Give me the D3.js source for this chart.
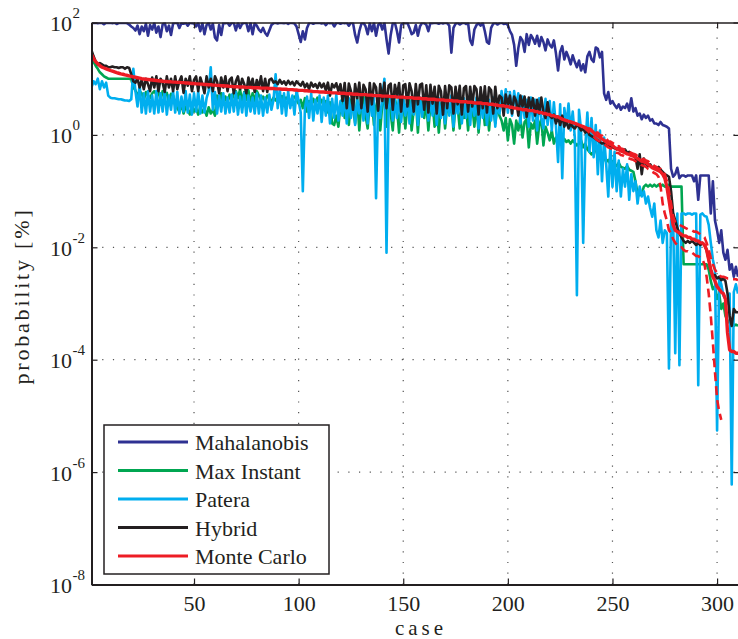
<!DOCTYPE html>
<html>
<head>
<meta charset="utf-8">
<script src="https://cdn.jsdelivr.net/npm/d3@7"></script>
<style>
  body { margin: 0; background: #fff; }
  svg text { font-family: "Liberation Serif", "Times New Roman", serif; fill: #231f20; }
</style>
</head>
<body>
<svg class="chart" width="738" height="639"></svg>
<script>
// probability [%] per case
var mahalanobis = [
  99, 98, 99, 97, 99, 98, 93, 99, 98, 99,
  97, 99, 94, 98, 99, 98, 99, 97, 92, 85,
  80, 72, 88, 62, 85, 70, 95, 58, 90, 75,
  98, 66, 85, 55, 92, 99, 70, 88, 60, 96,
  98, 99, 80, 97, 95, 99, 88, 99, 97, 96,
  85, 99, 70, 98, 62, 90, 99, 75, 95, 54,
  48, 90, 60, 98, 97, 99, 88, 98, 99, 72,
  99, 80, 95, 99, 98, 70, 99, 62, 97, 88,
  75, 68, 80, 65, 58, 72, 90, 97, 99, 96,
  99, 98, 97, 99, 94, 99, 98, 96, 85, 62,
  45, 70, 50, 80, 97, 99, 95, 99, 98, 99,
  96, 99, 90, 99, 97, 99, 85, 98, 99, 95,
  99, 97, 99, 88, 99, 98, 60, 44, 70, 95,
  99, 85, 62, 97, 70, 99, 58, 90, 99, 75,
  99, 50, 28, 60, 97, 99, 70, 44, 90, 99,
  97, 99, 80, 62, 66, 90, 58, 85, 99, 97,
  92, 70, 99, 97, 99, 98, 95, 99, 96, 99,
  97, 88, 29, 80, 95, 99, 92, 97, 99, 94,
  98, 48, 40, 75, 90, 97, 88, 99, 70, 45,
  42, 80, 95, 99, 92, 97, 99, 94, 96, 90,
  70, 60, 40, 17, 35, 55, 48, 30, 62, 40,
  60, 52, 42, 58, 38, 55, 45, 32, 50, 40,
  36, 48, 28, 14, 30, 38, 22, 30, 24, 18,
  26, 20, 16, 21, 14, 18, 13, 25, 30, 22,
  20, 36, 34, 24, 30, 5.5, 4.2, 5.8, 3.6, 4.0,
  3.4, 3.0, 3.5, 2.8, 3.2, 3.0, 3.6, 2.7, 4.5, 2.6,
  3.0, 2.2, 2.4, 1.9, 2.3, 2.0, 2.2, 1.8, 1.9, 1.6,
  1.6, 1.5, 1.7, 1.5, 1.45, 1.4, 1.3, 0.25, 0.18, 0.2,
  0.26, 0.17, 0.19, 0.19, 0.18, 0.19, 0.19, 0.19, 0.15, 0.19,
  0.07, 0.19, 0.19, 0.19, 0.19, 0.19, 0.04, 0.15, 0.03, 0.02,
  0.012, 0.02, 0.008, 0.006, 0.009, 0.004, 0.005, 0.003, 0.0045, 0.003
]

var maxInstant = [
  23, 20, 17, 15, 13, 12, 11, 10.5, 10, 10,
  10, 10, 10, 10, 10, 10, 10, 10, 10, 9.8,
  7, 6.2, 5, 6, 5.5, 4.2, 5.8, 5, 4.5, 5.5,
  6, 5.2, 5.8, 4.2, 6, 5, 5.6, 3.8, 5.4, 5,
  3.4, 3, 2.6, 3.5, 2.4, 3.2, 2.8, 2.3, 3.4, 2.6,
  3, 2.3, 3.2, 2.5, 2.9, 2.2, 3.1, 2.4, 2.8, 2.2,
  5, 4.2, 5.5, 3.5, 4.8, 3.8, 5.2, 4, 5.6, 6,
  4.5, 6.5, 3.8, 5.8, 4.2, 6.2, 3.6, 5.5, 4, 6,
  5, 4.2, 4.8, 4, 5, 4.4, 3.9, 4.6, 4.1, 4.8,
  4.4, 4.9, 4, 4.6, 4.2, 3.8, 4.5, 4.8, 4.2, 3.6,
  4.2, 3, 4.5, 2.6, 4, 3.2, 4.4, 3.6, 4.6, 3.5,
  4.2, 3.4, 4, 2.5, 3.8, 1.6, 1.5, 2.2, 1.4, 3.5,
  4.6, 2, 4.8, 1.5, 4.2, 3, 1.6, 4.5, 1.2, 3.8,
  4.9, 2.2, 1.3, 4, 4.6, 1.5, 3.2, 4.4, 1.2, 3.6,
  4.2, 1.4, 4.8, 2.4, 1.2, 4.4, 3, 1.1, 4, 4.6,
  1.3, 3.5, 4.2, 1.2, 2.8, 4.4, 1.1, 3.8, 4.5, 2,
  3.8, 1.2, 3.5, 3.8, 1.4, 3.2, 1.1, 3.6, 3.8, 1.3,
  3.4, 2.5, 3.8, 1.2, 3.5, 3.2, 1.3, 3.8, 2, 3.4,
  1.2, 3.6, 3.3, 1.4, 3.7, 1.1, 3.2, 3.6, 1.5, 3.3,
  1.2, 3.5, 3, 1.6, 3.4, 2.2, 1.8, 1.2, 2, 0.8,
  1.9, 1.5, 0.7, 1.8, 1.2, 2, 0.9, 1.7, 1.9, 0.6,
  1.6, 1.3, 1.8, 0.7, 1.5, 1.9, 0.65, 1.4, 1.1, 0.8,
  1.2, 0.7, 0.9, 0.75, 0.8, 0.7, 0.85, 0.75, 0.8, 0.7,
  0.8, 0.72, 0.65, 0.7, 0.8, 0.6, 0.7, 0.55, 0.5, 0.45,
  0.5, 0.55, 0.42, 0.45, 0.38, 0.4, 0.33, 0.36, 0.3, 0.34,
  0.3, 0.28, 0.32, 0.27, 0.26, 0.25, 0.28, 0.24, 0.23, 0.22,
  0.15, 0.09, 0.085, 0.09, 0.12, 0.13, 0.12, 0.13, 0.12, 0.13,
  0.12, 0.13, 0.12, 0.13, 0.12, 0.12, 0.13, 0.12, 0.12, 0.12,
  0.12, 0.12, 0.12, 0.005, 0.005, 0.005, 0.005, 0.005, 0.005, 0.005,
  0.005, 0.005, 0.005, 0.005, 0.005, 0.004, 0.0025, 0.0018, 0.002, 0.0012,
  0.0015, 0.0008, 0.001, 0.0006, 0.0005, 0.00045, 0.0005, 0.0004, 0.00042, 0.0004
]

var patera = [
  7, 9, 8, 10, 6.5, 9, 7, 8.5, 5, 4.6,
  4.5, 4.5, 4.4, 4.3, 4.3, 4.2, 4.1, 4.1, 4, 4.3,
  15, 6, 3.2, 8, 2.5, 5.5, 2.4, 6, 2.6, 5,
  2.4, 6, 2.5, 5.5, 2.6, 6.2, 2.3, 5, 2.8, 6,
  2.5, 5.8, 2.4, 4.8, 2.6, 6, 2.5, 5.2, 2.3, 5.5,
  2.6, 6, 2.4, 5, 2.5, 4.5, 6, 16, 2.8, 5.8,
  2.4, 5, 2.6, 5.5, 2.4, 4.6, 2.5, 5.2, 2.6, 5.8,
  2.3, 4.8, 2.5, 5.6, 2.2, 5, 2.6, 4.6, 2.4, 5.5,
  2.4, 5, 2.2, 4.6, 2.5, 5.2, 2.8, 4.2, 12, 3,
  6.5, 2.4, 5.5, 2.2, 6, 3, 5, 2.3, 6.2, 4,
  2.5, 0.1, 3, 4.8, 2, 5.5, 1.8, 4.2, 2.4, 5,
  1.7, 4.6, 2.2, 5, 1.6, 4.4, 2, 5.2, 1.8, 4,
  2.2, 4.8, 1.6, 4.5, 2, 5, 1.5, 4.2, 2.4, 4.8,
  1.8, 4.4, 1.6, 5, 2.2, 4.6, 0.075, 3.5, 2, 4.8,
  10, 0.008, 3, 4.5, 1.8, 4.2, 2, 5, 1.7, 4.4,
  2.2, 4.8, 1.6, 4, 2.3, 5, 1.5, 4.6, 2.1, 4.2,
  4.8, 1.8, 4.4, 2.2, 5, 1.5, 4.5, 2, 4.2, 1.6,
  4.6, 2.2, 5, 1.4, 4.2, 2.4, 4.8, 1.6, 4.5, 2,
  4.4, 1.5, 5, 2.2, 4.6, 1.3, 4.4, 2, 4.8, 1.5,
  4.2, 1.8, 4.6, 1.4, 4, 2.4, 6, 3, 6.5, 2.5,
  5.8, 2.2, 6, 3.2, 5.5, 1.6, 4.8, 2, 4.2, 1.4,
  4.6, 1.8, 4.2, 1.2, 4.5, 2, 1.3, 4.4, 1.5, 4,
  1.2, 3.8, 1.4, 0.33, 3.5, 0.17, 3, 1.5, 3.6, 1.2,
  2.6, 0.9, 0.0014, 2.8, 1.2, 0.012, 0.6, 2.5, 0.5, 2,
  0.4, 1.5, 0.2, 1.2, 0.15, 0.9, 0.3, 0.08, 0.7, 0.12,
  0.5, 0.1, 0.35, 0.08, 0.25, 0.12, 0.3, 0.07, 0.2, 0.1,
  0.15, 0.06, 0.12, 0.08, 0.1, 0.06, 0.08, 0.05, 0.035, 0.06,
  0.02, 0.015, 0.03, 0.012, 0.02, 0.018, 7e-5, 0.03, 0.04, 1.3e-4,
  0.04, 8e-5, 0.04, 0.04, 0.038, 0.04, 0.04, 0.038, 0.04, 0.04,
  3.5e-5, 0.038, 0.04, 0.036, 0.035, 0.025, 0.012, 0.006, 0.004, 5.5e-6,
  0.0028, 0.0022, 0.0014, 0.0012, 0.001, 0.0015, 6e-7, 0.0016, 0.0022, 0.0015
]

var hybrid = [
  32, 25, 20, 18, 19, 18, 17, 17, 16, 16,
  16.5, 16, 16, 15.5, 16, 16, 15, 16, 15.5, 12,
  9, 8.5, 10, 7, 9.5, 6.5, 10, 8, 6, 10.5,
  7, 11, 6, 10, 8.5, 5.8, 11, 7, 10, 6,
  11, 6.5, 9, 11, 5.6, 10, 7.5, 11, 6, 9.5,
  11, 6, 10.5, 8, 5.5, 11, 7, 10, 6, 11,
  9, 5.5, 10.5, 7, 11, 6, 9.5, 10.5, 5.5, 9,
  11, 6.5, 10, 8, 5.5, 10.5, 7, 10, 5.8, 9.5,
  7, 11, 6, 10, 5.8, 9.5, 10, 8.5, 9, 8,
  9.5, 8.2, 9, 7.8, 9.2, 8, 8.8, 7.6, 9, 8.2,
  7.5, 8.8, 7, 8.2, 6.5, 8.5, 7.2, 8, 6.8, 8.4,
  7, 8.2, 6.2, 8.5, 5, 8, 7, 8.3, 6, 8,
  4, 8.4, 3, 8.2, 6, 2.8, 8, 4.5, 8.5, 3,
  7.8, 6.5, 2.6, 8.4, 3.5, 8.2, 7, 2.7, 8, 4,
  8.5, 3, 7.5, 8.2, 2.8, 7.8, 5, 8.4, 2.6, 7.6,
  8, 3.2, 8.3, 6, 2.6, 8, 3.5, 7.8, 8.2, 2.8,
  7.6, 2.5, 7.8, 3.6, 7.2, 2.4, 7.5, 6, 2.3, 7.4,
  3, 7.6, 7, 2.4, 7.2, 3.5, 7.5, 2.3, 6.8, 7.4,
  2.6, 7.2, 3.2, 7.4, 6.5, 2.3, 7, 3, 7.3, 2.5,
  7, 6.2, 2.4, 7.2, 3, 5, 4.6, 2.2, 5.2, 3.5,
  5, 2.4, 4.8, 4, 2.2, 5, 3.2, 4.8, 2.1, 4.6,
  3, 4.5, 2.2, 4.2, 2.4, 4.6, 2.6, 2, 3.8, 2.2,
  2, 2.3, 1.6, 2.1, 1.5, 2.2, 1.4, 1.8, 1.3, 1.6,
  1.4, 1.3, 1.5, 1.4, 1.2, 1.3, 1.1, 1.2, 1, 0.95,
  0.9, 0.85, 0.8, 0.75, 0.7, 0.72, 0.68, 0.62, 0.65, 0.6,
  0.58, 0.55, 0.6, 0.52, 0.5, 0.55, 0.48, 0.5, 0.45, 0.42,
  0.4, 0.25, 0.45, 0.2, 0.38, 0.3, 0.28, 0.3, 0.26, 0.27,
  0.25, 0.27, 0.24, 0.22, 0.2, 0.19, 0.18, 0.1, 0.04, 0.03,
  0.022, 0.018, 0.015, 0.013, 0.012, 0.013, 0.012, 0.013, 0.012, 0.011,
  0.012, 0.011, 0.012, 0.011, 0.009, 0.006, 0.004, 0.003, 0.0032, 0.0028,
  0.003, 0.0026, 0.0028, 0.0025, 0.0015, 0.0006, 0.0004, 0.0008, 0.0007, 0.0007
]

var monteCarlo = [
  27, 23, 20, 18.5, 17, 16, 15.5, 15, 14.5, 14,
  13.6, 13.2, 12.8, 12.5, 12.2, 12, 11.7, 11.5, 11.2, 11,
  10.8, 10.6, 10.4, 10.2, 10, 9.9, 9.8, 9.7, 9.6, 9.5,
  9.4, 9.3, 9.2, 9.1, 9, 8.9, 8.9, 8.8, 8.8, 8.7,
  8.7, 8.6, 8.6, 8.5, 8.5, 8.4, 8.4, 8.3, 8.2, 8.2,
  8.1, 8.1, 8, 8, 7.9, 7.9, 7.8, 7.8, 7.7, 7.7,
  7.6, 7.6, 7.5, 7.5, 7.4, 7.4, 7.3, 7.3, 7.2, 7.2,
  7.2, 7.1, 7.1, 7.1, 7, 7, 7, 6.9, 6.9, 6.9,
  6.9, 6.8, 6.8, 6.8, 6.8, 6.7, 6.7, 6.7, 6.6, 6.6,
  6.6, 6.5, 6.5, 6.5, 6.4, 6.4, 6.4, 6.3, 6.3, 6.2,
  6.2, 6.2, 6.1, 6.1, 6, 6, 5.9, 5.9, 5.9, 5.8,
  5.8, 5.8, 5.7, 5.7, 5.7, 5.6, 5.6, 5.6, 5.5, 5.5,
  5.5, 5.5, 5.4, 5.4, 5.4, 5.3, 5.3, 5.3, 5.2, 5.2,
  5.2, 5.2, 5.1, 5.1, 5.1, 5, 5, 5, 5, 4.9,
  4.9, 4.9, 4.9, 4.8, 4.8, 4.8, 4.7, 4.7, 4.7, 4.7,
  4.6, 4.6, 4.6, 4.6, 4.5, 4.5, 4.5, 4.5, 4.4, 4.4,
  4.4, 4.3, 4.3, 4.3, 4.3, 4.2, 4.2, 4.2, 4.2, 4.1,
  4.1, 4.1, 4.1, 4, 4, 4, 3.9, 3.9, 3.9, 3.9,
  3.8, 3.8, 3.8, 3.7, 3.7, 3.7, 3.7, 3.6, 3.6, 3.6,
  3.5, 3.5, 3.5, 3.4, 3.4, 3.3, 3.3, 3.3, 3.2, 3.2,
  3.1, 3.1, 3, 3, 2.9, 2.9, 2.8, 2.8, 2.8, 2.7,
  2.7, 2.7, 2.6, 2.6, 2.5, 2.5, 2.4, 2.4, 2.3, 2.3,
  2.2, 2.2, 2.1, 2.1, 2, 1.9, 1.85, 1.8, 1.75, 1.7,
  1.65, 1.6, 1.55, 1.5, 1.45, 1.4, 1.35, 1.3, 1.25, 1.2,
  1.1, 1.0, 0.95, 0.9, 0.85, 0.8, 0.75, 0.7, 0.68, 0.65,
  0.6, 0.57, 0.55, 0.52, 0.5, 0.48, 0.46, 0.45, 0.43, 0.42,
  0.4, 0.38, 0.36, 0.34, 0.33, 0.32, 0.3, 0.28, 0.26, 0.25,
  0.24, 0.23, 0.22, 0.2, 0.17, 0.12, 0.07, 0.04, 0.025, 0.02,
  0.019, 0.018, 0.017, 0.016, 0.016, 0.015, 0.015, 0.014, 0.014, 0.013,
  0.013, 0.012, 0.012, 0.011, 0.009, 0.006, 0.004, 0.003, 0.0025, 0.002,
  0.0018, 0.0016, 0.0015, 0.0012, 3e-4, 1.5e-4, 1.4e-4, 1.4e-4, 1.3e-4, 1.3e-4
]

// Monte Carlo confidence bounds (dashed), only drawn where they leave the estimate
var boundStart = 236
var monteCarloLow = [
  1.4, 1.3, 1.2, 1.1, 1.0,
  0.94, 0.85, 0.8, 0.77, 0.72, 0.68, 0.64, 0.6, 0.58, 0.55,
  0.51, 0.48, 0.47, 0.44, 0.43, 0.41, 0.39, 0.38, 0.37, 0.36,
  0.34, 0.32, 0.31, 0.29, 0.28, 0.27, 0.25, 0.24, 0.22, 0.21,
  0.2, 0.18, 0.12, 0.06, 0.04, 0.03, 0.02, 0.018, 0.014, 0.012,
  0.011, 0.01, 0.01, 0.009, 0.0085, 0.0085, 0.008, 0.008, 0.0075, 0.007,
  0.007, 0.0065, 0.006, 0.005, 0.003, 0.0015, 6e-4, 2e-4, 6e-5, 2e-5,
  1.2e-5, 8.5e-6
]
var monteCarloHigh = [
  1.4, 1.35, 1.3, 1.3, 1.25,
  1.2, 1.1, 1.1, 0.98, 0.97, 0.88, 0.86, 0.77, 0.76, 0.72,
  0.68, 0.62, 0.63, 0.57, 0.56, 0.52, 0.52, 0.49, 0.48, 0.46,
  0.45, 0.42, 0.41, 0.37, 0.37, 0.35, 0.34, 0.31, 0.3, 0.28,
  0.27, 0.25, 0.25, 0.22, 0.2, 0.15, 0.1, 0.06, 0.035, 0.028,
  0.026, 0.025, 0.024, 0.023, 0.022, 0.021, 0.021, 0.02, 0.019, 0.019,
  0.018, 0.017, 0.016, 0.015, 0.012, 0.009, 0.0065, 0.005, 0.004, 0.0035,
  0.0032, 0.003, 0.003, 0.0029, 0.0028, 0.0028, 0.0027, 0.0027, 0.0027, 0.0026
]

var seriesNames = ["Mahalanobis", "Max Instant", "Patera", "Hybrid", "Monte Carlo"]
var seriesColors = ["#2e3192", "#00a651", "#00aeef", "#231f20", "#ed1c24"]
var xTicks = [50, 100, 150, 200, 250, 300]
var yTicks = [1e-8, 1e-6, 1e-4, 1e-2, 1, 1e2]
var yExps = ["-8", "-6", "-4", "-2", "0", "2"]

// plot box (window.top is reserved, so no plain "top")
var pLeft = 91.5, pRight = 738, pTop = 22.5, pBottom = 584.5

const svg = d3.select(".chart")

var x = d3.scaleLinear().domain([1, 310]).range([pLeft, pRight])
var y = d3.scaleLog().domain([1e-8, 1e2]).range([pBottom, pTop])

svg.append("rect").attr("width", 738).attr("height", 639).attr("fill", "#fff")

svg.append("clipPath").attr("id", "plotclip")
  .append("rect")
    .attr("x", pLeft).attr("y", pTop)
    .attr("width", pRight - pLeft + 5).attr("height", pBottom - pTop)

// dotted grid
var grid = svg.append("g").attr("stroke", "#555").attr("stroke-width", 1.2)
  .attr("stroke-dasharray", "1.2,9.5")
grid.selectAll("gx").data(xTicks).enter().append("line")
  .attr("x1", d => x(d)).attr("x2", d => x(d))
  .attr("y1", pBottom).attr("y2", pTop)
grid.selectAll("gy").data(yTicks.slice(1, 5)).enter().append("line")
  .attr("y1", d => y(d)).attr("y2", d => y(d))
  .attr("x1", pLeft).attr("x2", pRight)

function toPoints(values, start){
  return values.map(function(v, i){ return {c: start + i, v: v} })
}

var line = d3.line()
  .x(d => x(d.c))
  .y(d => y(d.v))

var plot = svg.append("g").attr("clip-path", "url(#plotclip)")
  .attr("fill", "none")
  .attr("stroke-linejoin", "round")

var allSeries = [mahalanobis, maxInstant, patera, hybrid, monteCarlo]
allSeries.forEach(function(vals, i){
  plot.append("path")
    .attr("d", line(toPoints(vals, 1)))
    .attr("stroke", seriesColors[i])
    .attr("stroke-width", i == 4 ? 3.4 : 2.6)
})

;[monteCarloLow, monteCarloHigh].forEach(function(vals){
  plot.append("path")
    .attr("d", line(toPoints(vals, boundStart)))
    .attr("stroke", seriesColors[4])
    .attr("stroke-width", 2.6)
    .attr("stroke-dasharray", "9,5")
})

// axes, MATLAB style ticks pointing inwards
svg.append("g")
  .attr("transform", "translate(0," + pBottom + ")")
  .call(d3.axisBottom(x).tickValues(xTicks).tickSizeInner(-6).tickSizeOuter(0).tickPadding(11))
  .call(g => g.select(".domain").attr("stroke", "#231f20").attr("stroke-width", 2))
  .call(g => g.selectAll(".tick line").attr("stroke", "#231f20").attr("stroke-width", 1.2))
  .call(g => g.selectAll(".tick text").attr("font-size", 22).attr("font-family", "Liberation Serif").attr("fill", "#231f20"))

svg.append("g")
  .attr("transform", "translate(0," + pTop + ")")
  .call(d3.axisTop(x).tickValues(xTicks).tickSizeInner(-6).tickSizeOuter(0).tickFormat(""))
  .call(g => g.select(".domain").attr("stroke", "#231f20").attr("stroke-width", 1.5))
  .call(g => g.selectAll(".tick line").attr("stroke", "#231f20").attr("stroke-width", 1.2))

svg.append("g")
  .attr("transform", "translate(" + (pRight + 1.5) + ",0)")
  .call(d3.axisRight(y).tickValues(yTicks).tickSizeInner(-6).tickSizeOuter(0).tickFormat(""))
  .call(g => g.select(".domain").attr("stroke", "#231f20").attr("stroke-width", 2))
  .call(g => g.selectAll(".tick line").attr("stroke", "#231f20").attr("stroke-width", 1.2))

var yAxis = svg.append("g")
  .attr("transform", "translate(" + pLeft + ",0)")
  .call(d3.axisLeft(y).tickValues(yTicks).tickSizeInner(-6).tickSizeOuter(0).tickFormat(""))
yAxis.select(".domain").attr("stroke", "#231f20").attr("stroke-width", 2)
yAxis.selectAll(".tick line").attr("stroke", "#231f20").attr("stroke-width", 1.2)
yAxis.selectAll(".tick text").remove()
yAxis.selectAll(".tick").each(function(d, i){
  var t = d3.select(this)
  t.append("text")
    .attr("x", 72 - pLeft).attr("y", 8)
    .attr("text-anchor", "end")
    .attr("font-size", 22)
    .attr("font-family", "Liberation Serif")
    .attr("fill", "#231f20")
    .text("10")
  t.append("text")
    .attr("x", 72.5 - pLeft).attr("y", -5)
    .attr("text-anchor", "start")
    .attr("font-size", 15)
    .attr("font-family", "Liberation Serif")
    .attr("fill", "#231f20")
    .text(yExps[i])
})

// axis labels
svg.append("text")
  .attr("x", 421).attr("y", 635)
  .attr("text-anchor", "middle")
  .attr("font-size", 21)
  .attr("letter-spacing", 4)
  .text("case")

svg.append("text")
  .attr("transform", "translate(29,296) rotate(-90)")
  .attr("text-anchor", "middle")
  .attr("font-size", 22)
  .attr("letter-spacing", 2.8)
  .text("probability [%]")

// legend
var legend = svg.append("g")
legend.append("rect")
  .attr("x", 104).attr("y", 425)
  .attr("width", 225).attr("height", 149)
  .attr("fill", "#fff").attr("stroke", "#231f20").attr("stroke-width", 1.5)

var rows = legend.selectAll("row").data(seriesNames).enter().append("g")
  .attr("transform", (d, i) => "translate(0," + (442 + i * 28.5) + ")")
rows.append("line")
  .attr("x1", 118).attr("x2", 188)
  .attr("stroke", (d, i) => seriesColors[i])
  .attr("stroke-width", 2.8)
rows.append("text")
  .attr("x", 195).attr("y", 8)
  .attr("font-size", 22)
  .text(d => d)
</script>
</body>
</html>
